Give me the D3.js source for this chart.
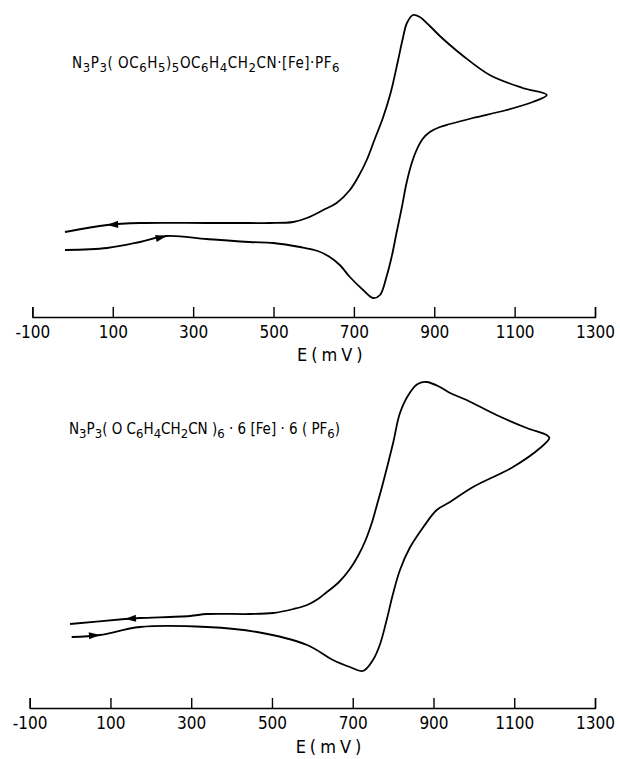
<!DOCTYPE html>
<html>
<head>
<meta charset="utf-8">
<script src="https://cdn.jsdelivr.net/npm/d3@7"></script>
<style>
  body { margin: 0; background: #fff; }
  svg { display: block; }
  .tick text, .lbl { font-family: "DejaVu Sans Condensed", "DejaVu Sans", sans-serif; fill: #000; }
</style>
</head>
<body>
<script>
// potential axis (mV), shared by both voltammograms
const tickE = [-100, 100, 300, 500, 700, 900, 1100, 1300]

// top: N3P3(OC6H5)5OC6H4CH2CN.[Fe].PF6   (current in arbitrary units)
const topForwardE = [-19, 86, 168, 234, 334, 441, 499, 566, 610, 640, 665, 690, 723, 748, 765, 781, 795, 806, 819, 831, 844, 856, 871, 889, 914, 939, 996, 1080, 1145, 1180]
const topForwardI = [0.0, 0.2, 0.8, 1.4, 1.1, 0.8, 0.7, 0.3, -0.1, -0.7, -1.5, -2.7, -4.0, -4.8, -4.5, -2.7, -0.5, 1.7, 4.2, 6.7, 8.7, 10.0, 11.1, 11.8, 12.3, 12.6, 13.2, 14.0, 14.8, 15.5]
const topReverseE = [1120, 1038, 969, 939, 914, 889, 864, 847, 832, 822, 809, 792, 773, 752, 732, 712, 690, 657, 624, 583, 549, 491, 441, 334, 168, 86, -19]
const topReverseI = [16.2, 17.5, 19.5, 20.5, 21.4, 22.4, 23.3, 23.5, 22.7, 21.2, 18.8, 15.8, 13.3, 11.1, 9.0, 7.4, 6.0, 4.7, 4.0, 3.2, 2.8, 2.7, 2.7, 2.7, 2.7, 2.5, 1.8]

// bottom: N3P3(OC6H4CH2CN)6.6[Fe].6(PF6)
const botForwardE = [4, 74, 173, 339, 463, 587, 651, 693, 725, 750, 767, 784, 799, 817, 841, 875, 908, 941, 998, 1097, 1164, 1187]
const botForwardI = [-0.7, -0.5, 0.3, 0.3, -0.2, -1.5, -3.0, -3.7, -4.1, -3.0, -1.5, 1.0, 3.5, 6.0, 8.2, 10.3, 12.0, 12.8, 14.3, 16.3, 18.2, 19.2]
const botReverseE = [1180, 1131, 1056, 982, 941, 916, 883, 861, 841, 817, 800, 775, 760, 748, 731, 713, 693, 666, 636, 614, 587, 553, 503, 445, 339, 297, 173, 136, 0]
const botReverseI = [19.5, 20.2, 21.5, 23.0, 23.7, 24.3, 24.8, 24.6, 23.7, 21.7, 18.7, 14.7, 12.5, 10.8, 8.9, 7.4, 6.1, 4.8, 3.8, 3.1, 2.5, 2.1, 1.7, 1.6, 1.6, 1.4, 1.2, 1.1, 0.6]

// scan-direction arrows: tip and a point behind it
const topArrows = [
  { tip: [86, 2.5], tail: [168, 2.7] },
  { tip: [234, 1.4], tail: [168, 0.8] }
]
const botArrows = [
  { tip: [136, 1.1], tail: [173, 1.2] },
  { tip: [74, -0.5], tail: [4, -0.7] }
]

// formula pieces: [text, isSubscript]
const topFormula = [['N', 0], ['3', 1], ['P', 0], ['3', 1], ['( OC', 0], ['6', 1], ['H', 0], ['5', 1], [')', 0], ['5', 1],
  ['OC', 0], ['6', 1], ['H', 0], ['4', 1], ['CH', 0], ['2', 1], ['CN\u00b7[Fe]\u00b7PF', 0], ['6', 1]]
const botFormula = [['N', 0], ['3', 1], ['P', 0], ['3', 1], ['( O C', 0], ['6', 1], ['H', 0], ['4', 1], ['CH', 0], ['2', 1],
  ['CN )', 0], ['6', 1], [' \u00b7 6 [Fe] \u00b7 6 ( PF', 0], ['6', 1], [')', 0]]

const width = 620
const height = 759

const svg = d3.select('body').append('svg')
  .attr('width', width)
  .attr('height', height)

svg.append('rect').attr('width', width).attr('height', height).attr('fill', '#fff')

const panels = [
  {
    fe: topForwardE, fi: topForwardI, re: topReverseE, ri: topReverseI,
    arrows: topArrows, formula: topFormula,
    x: d3.scaleLinear().domain([-100, 1300]).range([32.4, 595]),
    y: d3.scaleLinear().domain([-5, 24]).range([300, 10]),
    axisY: 317, labelY: 361, formulaX: 72, formulaY: 68, formulaW: 268
  },
  {
    fe: botForwardE, fi: botForwardI, re: botReverseE, ri: botReverseI,
    arrows: botArrows, formula: botFormula,
    x: d3.scaleLinear().domain([-100, 1300]).range([29.7, 595]),
    y: d3.scaleLinear().domain([-5, 25]).range([680, 380]),
    axisY: 708, labelY: 753, formulaX: 69, formulaY: 434, formulaW: 261
  }
]

panels.forEach(p => {
  const pts = p.fe.map((e, k) => [e, p.fi[k]])
    .concat(p.re.map((e, k) => [e, p.ri[k]]))

  const line = d3.line()
    .x(d => p.x(d[0]))
    .y(d => p.y(d[1]))
    .curve(d3.curveCatmullRom.alpha(0.5))

  svg.append('path')
    .datum(pts)
    .attr('d', line)
    .attr('fill', 'none')
    .attr('stroke', '#000')
    .attr('stroke-width', 1.8)
    .attr('stroke-linejoin', 'round')

  svg.selectAll(null)
    .data(p.arrows)
    .enter().append('path')
    .attr('d', 'M0,0 L-11,-3.6 L-11,3.6 Z')
    .attr('fill', '#000')
    .attr('transform', d => {
      const tx = p.x(d.tip[0]), ty = p.y(d.tip[1])
      const ang = Math.atan2(ty - p.y(d.tail[1]), tx - p.x(d.tail[0])) * 180 / Math.PI
      return `translate(${tx},${ty}) rotate(${ang})`
    })

  const axis = d3.axisBottom(p.x)
    .tickValues(tickE)
    .tickFormat(d => String(d))
    .tickSizeInner(-10)
    .tickSizeOuter(-10)
    .tickPadding(9)

  const g = svg.append('g')
    .attr('transform', `translate(0,${p.axisY})`)
    .call(axis)
  g.select('.domain').attr('stroke-width', 1.4)
  g.selectAll('.tick line').attr('stroke-width', 1.4)
  g.selectAll('.tick text').attr('font-size', 17).attr('fill', '#000')

  svg.append('text')
    .attr('class', 'lbl')
    .attr('x', p.x(645))
    .attr('y', p.labelY)
    .attr('text-anchor', 'middle')
    .attr('font-size', 18)
    .attr('letter-spacing', 4)
    .text('E(mV)')

  const t = svg.append('text')
    .attr('class', 'lbl')
    .attr('x', p.formulaX)
    .attr('y', p.formulaY)
    .attr('font-size', 15)
  let shifted = false
  p.formula.forEach(([s, sub]) => {
    const dy = sub && !shifted ? 4 : (!sub && shifted ? -4 : 0)
    shifted = !!sub
    t.append('tspan')
      .attr('dy', dy)
      .attr('font-size', sub ? 13 : 15)
      .text(s)
  })
  // stretch letter spacing so the formula spans the same width as in the figure
  const n = p.formula.reduce((a, d) => a + d[0].length, 0)
  const len = t.node().getComputedTextLength()
  t.attr('letter-spacing', Math.max(0, (p.formulaW - len) / n))
})
</script>
</body>
</html>
